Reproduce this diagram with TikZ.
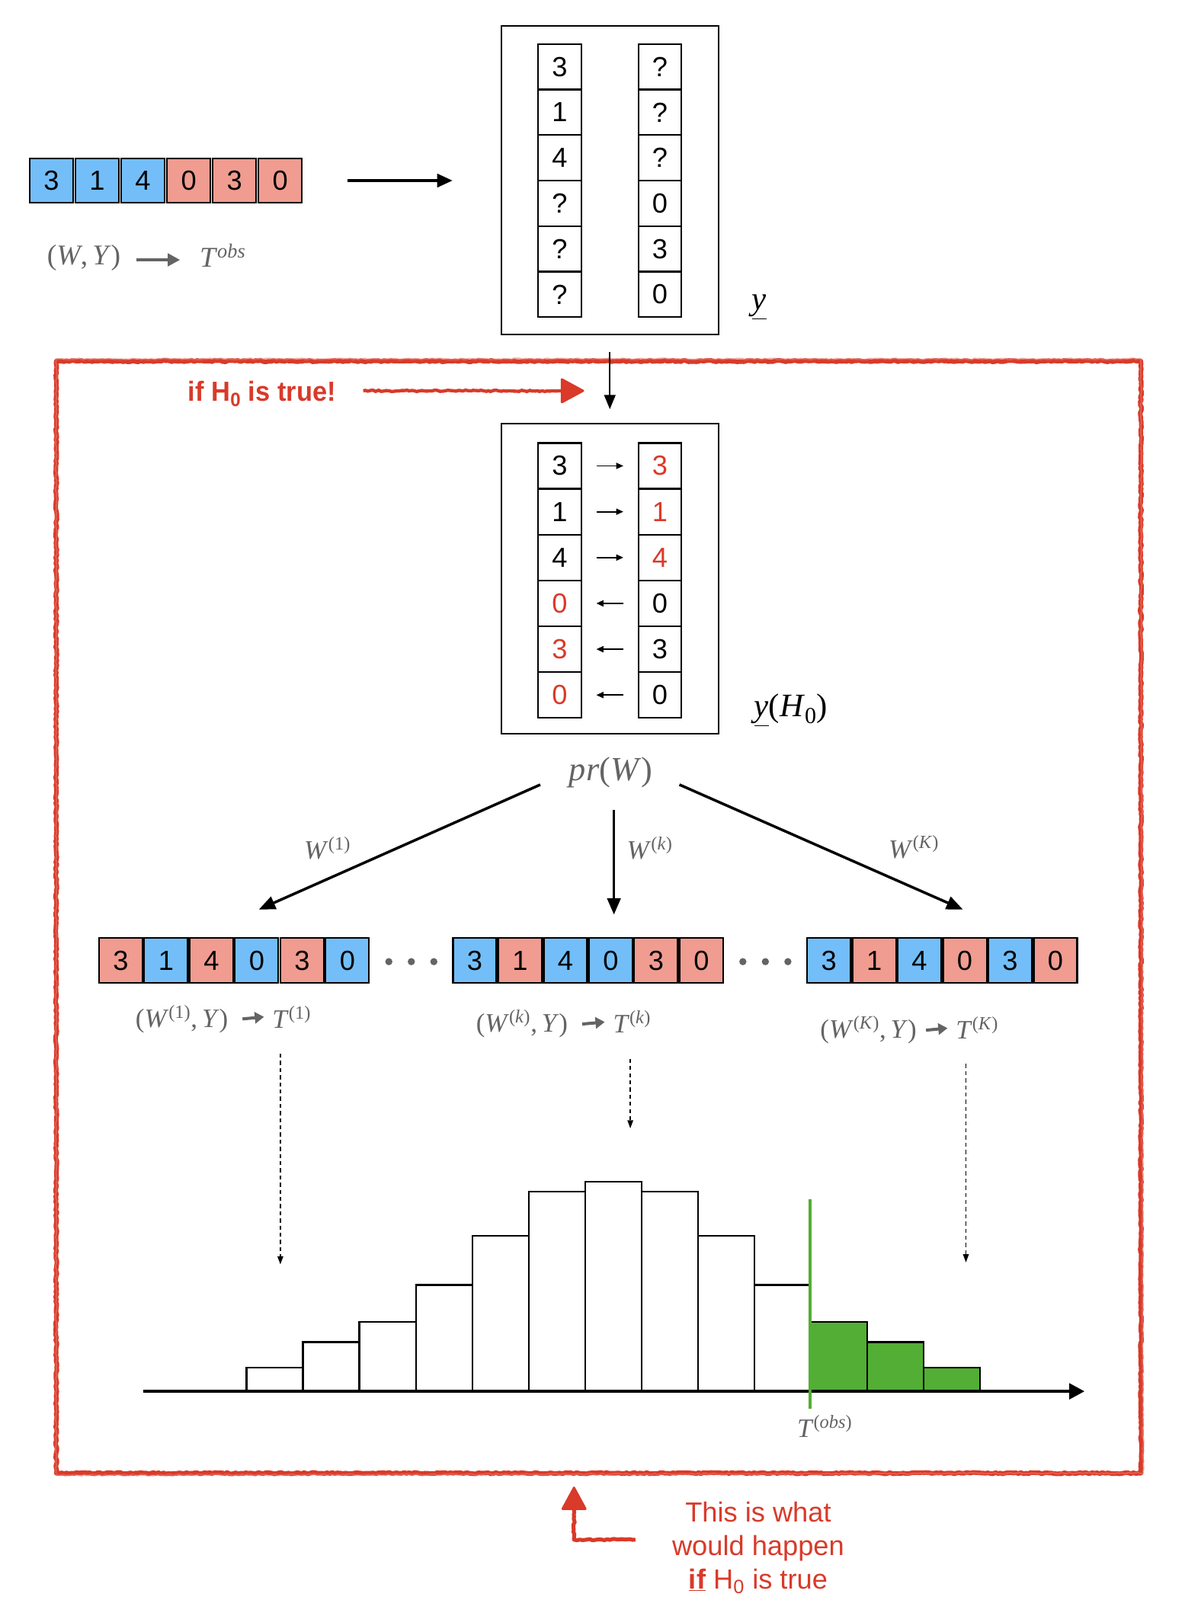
\documentclass[tikz,border=0pt]{standalone}
\usepackage{fontspec}
\setmainfont{Liberation Serif}
\setsansfont{Liberation Sans}
\usetikzlibrary{arrows.meta,decorations.pathmorphing,calc}
\definecolor{cblue}{RGB}{115,190,248}
\definecolor{csalmon}{RGB}{240,156,144}
\definecolor{cred}{RGB}{217,58,41}
\definecolor{cgreen}{RGB}{82,174,52}
\definecolor{cgray}{RGB}{100,100,100}
\tikzset{
  cell/.style={draw=black, line width=1.6pt, minimum width=42.5pt, minimum height=43pt, inner sep=0pt,
    font=\sffamily\fontsize{27}{30}\selectfont},
  colcell/.style={cell, minimum width=42pt, minimum height=44.6pt},
  frame/.style={draw=black, line width=1.5pt, minimum width=212pt, inner sep=0pt},
  mlbl/.style={text=cgray, inner sep=0pt, font=\fontsize{26}{28}\selectfont},
  biglbl/.style={text=black, inner sep=0pt, font=\fontsize{32}{34}\selectfont},
  mainarrow/.style={line width=2.6pt, -{Triangle[length=16pt,width=13pt]}},
  smallarrow/.style={line width=1.4pt, -{Triangle[length=7pt,width=6pt]}},
  grayarrow/.style={cgray, line width=3pt, -{Triangle[length=9pt,width=11pt]}},
  dasharrow/.style={line width=1.2pt, dash pattern=on 4pt off 3pt, -{Triangle[length=8pt,width=5.5pt]}},
  rough/.style={decorate, decoration={random steps, segment length=2.5pt, amplitude=0.7pt}},
  bar/.style={draw=black, line width=1.8pt},
  dot/.style={circle, fill=cgray, minimum size=7pt, inner sep=0pt}
}
\begin{document}
\begin{tikzpicture}[x=1pt,y=-1pt]
\useasboundingbox (0,0) rectangle (1158,1564);
\fill[white] (0,0) rectangle (1158,1564);

% ---------- observed row ----------
\foreach \t/\c [count=\i] in {3/cblue,1/cblue,4/cblue,0/csalmon,3/csalmon,0/csalmon}
  \node[cell, fill=\c] (r0-\i) at ({50.3+44.7*(\i-1)},176.5) {\t};

\node[mlbl, font=\fontsize{28}{30}\selectfont] (fw0) at (82,252) {(\textit{W},\,\textit{Y})};
\node[mlbl, anchor=west, font=\fontsize{28}{30}\selectfont] (ft0) at (195,250) {\textit{T}\textsuperscript{\textit{obs}}};
\coordinate (g0a) at (133,254);
\coordinate (g0b) at (176,254);
\draw[grayarrow, -{Triangle[length=12pt,width=12pt]}] (g0a) -- (g0b);

% ---------- box 1 ----------
\node[frame, minimum height=302pt] (box1) at (596,176) {};
\foreach \t [count=\i] in {3,1,4,?,?,?}
  \node[colcell] (a-\i) at (547,{65.3+44.5*(\i-1)}) {\t};
\foreach \t [count=\i] in {?,?,?,0,3,0}
  \node[colcell] (b-\i) at (645,{65.3+44.5*(\i-1)}) {\t};
\node[biglbl] (ylab) at (742,300) {\underline{\textit{y}}};

\draw[line width=2.6pt, -{Triangle[length=15pt,width=13pt]}, shorten <=44pt, shorten >=47pt] (r0-6.east) -- (box1.west |- r0-6.east);

% ---------- red frame ----------
\draw[cred, line width=4.5pt, rough, line join=round] (55,353) -- (1115,353) -- (1115,1440) -- (55,1440) -- cycle;
\draw[cred!70, line width=1.5pt, rough, opacity=0.6] (55,351) -- (1115,351) -- (1117,1440) -- (55,1442) -- cycle;

\draw[line width=1.8pt, -{Triangle[length=14pt,width=11pt]}, shorten <=16pt, shorten >=14pt] (box1.south) -- (596,414);

% if H0 is true
\node[text=cred, inner sep=0pt, font=\sffamily\bfseries\fontsize{27}{30}\selectfont, xscale=0.95] (ifh) at (256,385) {if H\textsubscript{0} is true!};
\coordinate (ifa) at (355,382);
\coordinate (ifb) at (572,382);
\draw[cred, line width=3.2pt, rough] (ifa) -- ($(ifb)+(-20,0)$);
\fill[cred, rounded corners=2pt] ($(ifb)+(-24,-13)$) -- (ifb) -- ($(ifb)+(-24,13)$) -- cycle;

% ---------- box 2 ----------
\node[frame, minimum height=303pt] (box2) at (596,565.5) {};
\foreach \t/\c [count=\i] in {3/black,1/black,4/black,0/cred,3/cred,0/cred}
  \node[colcell, text=\c] (c-\i) at (547,{455.4+44.8*(\i-1)}) {\t};
\foreach \t/\c [count=\i] in {3/cred,1/cred,4/cred,0/black,3/black,0/black}
  \node[colcell, text=\c] (d-\i) at (645,{455.4+44.8*(\i-1)}) {\t};
\foreach \i in {1,2,3}
  \draw[smallarrow, shorten <=14pt, shorten >=14pt] (c-\i.east) -- (d-\i.west);
\foreach \i in {4,5,6}
  \draw[smallarrow, shorten <=14pt, shorten >=14pt] (d-\i.west) -- (c-\i.east);
\node[biglbl] (yh0) at (773,694) {\underline{\textit{y}}(\textit{H}\textsubscript{0})};

% ---------- pr(W) ----------
\node[mlbl, font=\fontsize{33}{35}\selectfont] (prw) at (597,755) {\textit{pr}(\textit{W})};
\coordinate (p1s) at (528,767); \coordinate (p1e) at (253,889);
\coordinate (p2s) at (600,792); \coordinate (p2e) at (600,894);
\coordinate (p3s) at (664,767); \coordinate (p3e) at (941,889);
\draw[mainarrow] (p1s) -- (p1e);
\draw[mainarrow] (p2s) -- (p2e);
\draw[mainarrow] (p3s) -- (p3e);
\node[mlbl] (w1) at (320,829) {\textit{W}\textsuperscript{(1)}};
\node[mlbl] (wk) at (635,829) {\textit{W}\textsuperscript{(\textit{k})}};
\node[mlbl] (wK) at (893,828) {\textit{W}\textsuperscript{(\textit{K})}};

% ---------- permuted rows ----------
\foreach \t/\c [count=\i] in {3/csalmon,1/cblue,4/csalmon,0/cblue,3/csalmon,0/cblue}
  \node[cell, fill=\c, minimum height=44pt] (r1-\i) at ({118+44.3*(\i-1)},939) {\t};
\foreach \t/\c [count=\i] in {3/cblue,1/csalmon,4/cblue,0/cblue,3/csalmon,0/csalmon}
  \node[cell, fill=\c, minimum height=44pt] (r2-\i) at ({464+44.3*(\i-1)},939) {\t};
\foreach \t/\c [count=\i] in {3/cblue,1/csalmon,4/cblue,0/csalmon,3/cblue,0/csalmon}
  \node[cell, fill=\c, minimum height=44pt] (r3-\i) at ({810+44.3*(\i-1)},939) {\t};
\foreach \x [count=\i] in {380,402,424} \node[dot] (da-\i) at (\x,940) {};
\foreach \x [count=\i] in {726,748,770} \node[dot] (db-\i) at (\x,940) {};

% formulas
\node[mlbl, anchor=east] (f1a) at (223,996) {(\textit{W}\textsuperscript{(1)},\,\textit{Y})};
\node[mlbl, anchor=west] (f1b) at (266,994) {\textit{T}\textsuperscript{(1)}};
\draw[grayarrow] ($(f1a.east)+(14,0)$) -- ($(f1b.west)+(-8,0)$);
\node[mlbl, anchor=east] (f2a) at (555,1001) {(\textit{W}\textsuperscript{(\textit{k})},\,\textit{Y})};
\node[mlbl, anchor=west] (f2b) at (599,999) {\textit{T}\textsuperscript{(\textit{k})}};
\draw[grayarrow] ($(f2a.east)+(14,0)$) -- ($(f2b.west)+(-8,0)$);
\node[mlbl, anchor=east] (f3a) at (896,1007) {(\textit{W}\textsuperscript{(\textit{K})},\,\textit{Y})};
\node[mlbl, anchor=west] (f3b) at (934,1005) {\textit{T}\textsuperscript{(\textit{K})}};
\draw[grayarrow] ($(f3a.east)+(9,0)$) -- ($(f3b.west)+(-8,0)$);

% dashed arrows
\coordinate (q1s) at (274,1030); \coordinate (q1e) at (274,1236);
\coordinate (q2s) at (616,1035); \coordinate (q2e) at (616,1103);
\coordinate (q3s) at (944,1040); \coordinate (q3e) at (944,1234);
\draw[dasharrow] (q1s) -- (q1e);
\draw[dasharrow] (q2s) -- (q2e);
\draw[dasharrow] (q3s) -- (q3e);

% ---------- histogram ----------
\foreach \h [count=\i] in {1337,1312,1292,1256,1208,1165,1155,1165,1208,1256}
  \draw[bar, fill=white] ({241+55.15*(\i-1)},1360) rectangle ({241+55.15*\i},\h);
\foreach \h [count=\i] in {1292,1312,1337}
  \draw[bar, fill=cgreen] ({792.5+55.15*(\i-1)},1360) rectangle ({792.5+55.15*\i},\h);
\coordinate (ax0) at (140,1360);
\coordinate (ax1) at (1060,1360);
\draw[line width=3.5pt, -{Triangle[length=15pt,width=15pt]}] (ax0) -- (ax1);
\coordinate (tg0) at (792,1172);
\coordinate (tg1) at (792,1377);
\draw[cgreen, line width=3pt] (tg0) -- (tg1);
\node[mlbl] (tobs) at (806,1394) {\textit{T}\textsuperscript{(\textit{obs})}};

% ---------- bottom annotation ----------
\coordinate (la) at (621,1505);
\coordinate (lb) at (561,1505);
\coordinate (lc) at (561,1452);
\draw[cred, line width=3.8pt, rough, line join=round] (la) -- (lb) -- ($(lc)+(0,20)$);
\fill[cred, rounded corners=2pt] ($(lc)+(-13,24)$) -- (lc) -- ($(lc)+(13,24)$) -- cycle;
\node[text=cred, align=center, inner sep=0pt, font=\sffamily\fontsize{27}{33}\selectfont] (note) at (741,1513)
  {This is what\\would happen\\\underline{\textbf{if}} H\textsubscript{0} is true};
\end{tikzpicture}
\end{document}
